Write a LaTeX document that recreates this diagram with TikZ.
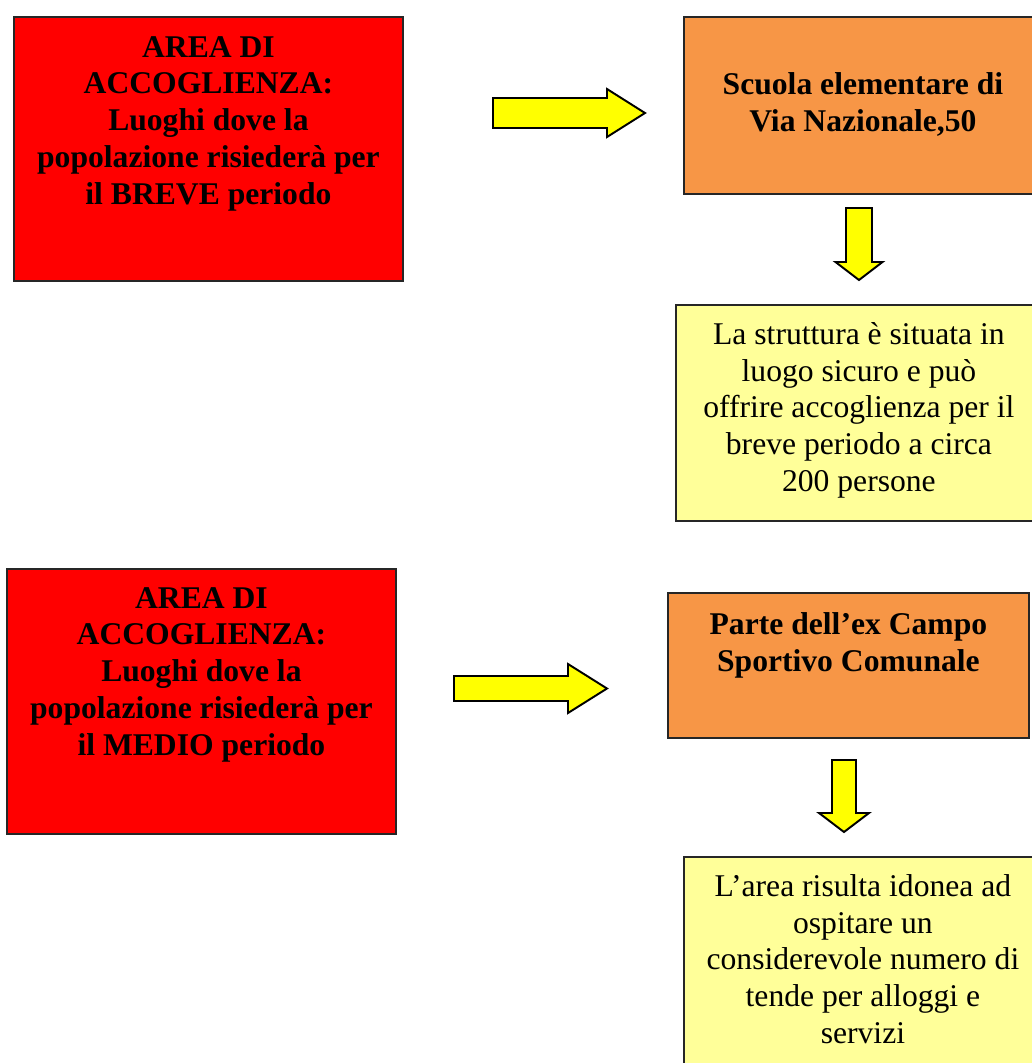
\documentclass[tikz,border=0pt]{standalone}
\usepackage{fontspec}
\setmainfont{Liberation Serif}
\usetikzlibrary{positioning}
\definecolor{boxred}{RGB}{255,0,0}
\definecolor{boxorange}{RGB}{247,150,70}
\definecolor{notecream}{RGB}{255,255,153}
\definecolor{arrowyellow}{RGB}{255,255,0}
\tikzset{
  frame/.style={draw=black!85, line width=1.1pt, anchor=north west, inner sep=0pt},
  areabox/.style={frame, fill=boxred, minimum width=7.78cm},
  sitebox/.style={frame, fill=boxorange},
  notebox/.style={frame, fill=notecream},
  boldtext/.style={anchor=north, align=center, inner sep=0pt, font=\bfseries\fontsize{18}{20.9}\selectfont},
  plaintext/.style={anchor=north, align=center, inner sep=0pt, font=\fontsize{18}{20.9}\selectfont},
  blockarrow/.style={draw=black, line width=1.1pt, fill=arrowyellow, line join=miter}
}
\begin{document}
\begin{tikzpicture}[x=0.02cm, y=-0.02cm]
\useasboundingbox (0,0) rectangle (1032,1063);
\clip (0,0) rectangle (1032,1063);
% short period
\node[areabox, minimum height=5.28cm] (breve) at (13,16) {};
\node[boldtext, below=0.40cm of breve.north] (brevetext) {AREA DI\\ACCOGLIENZA:\\Luoghi dove la\\popolazione risiederà per\\il BREVE periodo};
\node[sitebox, minimum width=7.16cm, minimum height=3.54cm] (scuola) at (683,16) {};
\node[boldtext, below=1.12cm of scuola.north] (scuolatext) {Scuola elementare di\\Via Nazionale,50};
\node[notebox, minimum width=7.32cm, minimum height=4.32cm] (scuolanote) at (675,304) {};
\node[plaintext, below=0.36cm of scuolanote.north] (scuolanotetext) {La struttura è situata in\\luogo sicuro e può\\offrire accoglienza per il\\breve periodo a circa\\200 persone};
\draw[blockarrow] (493,98) -- (607,98) -- (607,89) -- (645,113) -- (607,137) -- (607,128) -- (493,128) -- cycle;
\draw[blockarrow] (846,208) -- (872,208) -- (872,262) -- (882.5,262) -- (859,280) -- (835.5,262) -- (846,262) -- cycle;
% medium period
\node[areabox, minimum height=5.30cm] (medio) at (6,568) {};
\node[boldtext, below=0.38cm of medio.north] (mediotext) {AREA DI\\ACCOGLIENZA:\\Luoghi dove la\\popolazione risiederà per\\il MEDIO periodo};
\node[sitebox, minimum width=7.22cm, minimum height=2.90cm] (campo) at (667,592) {};
\node[boldtext, below=0.40cm of campo.north] (campotext) {Parte dell’ex Campo\\Sportivo Comunale};
\node[notebox, minimum width=7.16cm, minimum height=4.80cm] (camponote) at (683,856) {};
\node[plaintext, below=0.36cm of camponote.north] (camponotetext) {L’area risulta idonea ad\\ospitare un\\considerevole numero di\\tende per alloggi e\\servizi};
\draw[blockarrow] (454,676) -- (568,676) -- (568,664) -- (607,688.5) -- (568,713) -- (568,701) -- (454,701) -- cycle;
\draw[blockarrow] (832,760) -- (856,760) -- (856,813) -- (869,813) -- (844,832) -- (819,813) -- (832,813) -- cycle;
\end{tikzpicture}
\end{document}
